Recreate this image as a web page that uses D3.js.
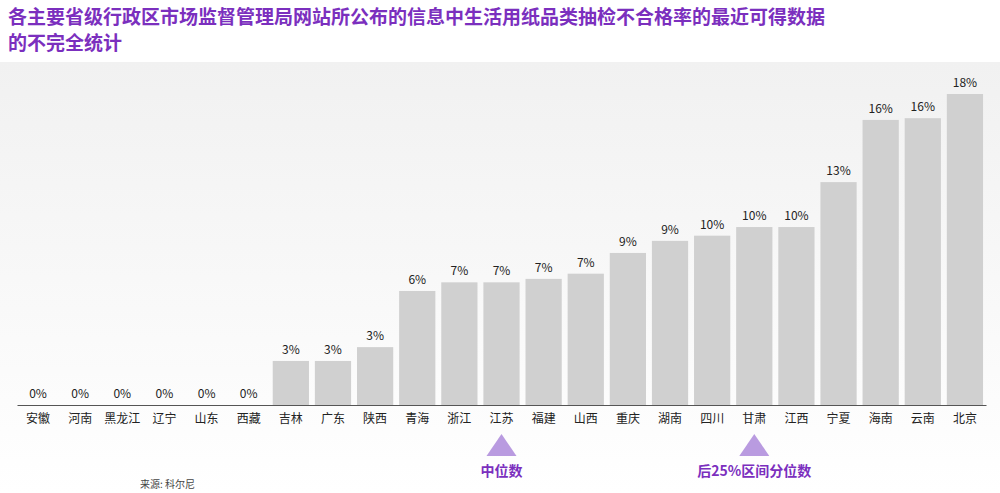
<!DOCTYPE html>
<html><head><meta charset="utf-8">
<script src="https://cdn.jsdelivr.net/npm/d3@7"></script>
<style>body{margin:0;background:#fff;font-family:"Noto Sans CJK SC","Noto Sans",sans-serif}</style>
</head><body><svg id="c" width="1000" height="493"></svg>
<script>
const categories=["安徽","河南","黑龙江","辽宁","山东","西藏","吉林","广东","陕西","青海","浙江","江苏","福建","山西","重庆","湖南","四川","甘肃","江西","宁夏","海南","云南","北京"];
const values=[0,0,0,0,0,0,2.55,2.55,3.35,6.6,7.1,7.1,7.3,7.6,8.8,9.5,9.8,10.3,10.3,12.9,16.5,16.6,18.0];
const valueLabels=["0%","0%","0%","0%","0%","0%","3%","3%","3%","6%","7%","7%","7%","7%","9%","9%","10%","10%","10%","13%","16%","16%","18%"];
const markers=[{cat:"江苏",label:"中位数"},{cat:"甘肃",label:"后25%区间分位数"}];
const svg=d3.select("#c");
const defs=svg.append("defs");
const g=defs.append("linearGradient").attr("id","bg").attr("x1",0).attr("x2",0).attr("y1",0).attr("y2",1);
g.append("stop").attr("offset","0").attr("stop-color","#f1f1f1");
g.append("stop").attr("offset","1").attr("stop-color","#ffffff");
svg.append("rect").attr("x",0).attr("y",62).attr("width",1000).attr("height",431).attr("fill","url(#bg)");
svg.append("text").attr("x",8).attr("y",24).attr("fill","#7b2fbe").attr("font-size",19).attr("font-weight","bold").text("各主要省级行政区市场监督管理局网站所公布的信息中生活用纸品类抽检不合格率的最近可得数据");
svg.append("text").attr("x",8).attr("y",50).attr("fill","#7b2fbe").attr("font-size",19).attr("font-weight","bold").text("的不完全统计");
const x=d3.scaleBand().domain(categories).range([17,986]).paddingInner(0.14).paddingOuter(0.07);
const y=d3.scaleLinear().domain([0,18]).range([405,94]);
svg.selectAll(".b").data(categories).enter().append("rect")
 .attr("x",d=>x(d)).attr("width",x.bandwidth())
 .attr("y",(d,i)=>y(values[i])).attr("height",(d,i)=>405-y(values[i])).attr("fill","#d0d0d0");
svg.selectAll(".v").data(categories).enter().append("text")
 .attr("x",d=>x(d)+x.bandwidth()/2).attr("y",(d,i)=>y(values[i])-7)
 .attr("text-anchor","middle").attr("font-size",12).attr("fill","#222").text((d,i)=>valueLabels[i]);
const ax=svg.append("g").attr("transform","translate(0,405)").call(d3.axisBottom(x).tickSize(0).tickPadding(9));
ax.select(".domain").attr("stroke","#555").attr("stroke-width",1.2);
ax.selectAll("text").attr("font-size",12).attr("fill","#222").attr("font-family","Noto Sans CJK SC");
markers.forEach(m=>{
 const cx=x(m.cat)+x.bandwidth()/2;
 svg.append("path").attr("d",`M${cx},434 L${cx+15},456 L${cx-15},456 Z`).attr("fill","#b99be0");
 svg.append("text").attr("x",cx).attr("y",476).attr("text-anchor","middle").attr("font-size",14).attr("font-weight","bold").attr("fill","#7b2fbe").text(m.label);
});
svg.append("text").attr("x",140).attr("y",488).attr("font-size",10).attr("fill","#444").text("来源: 科尔尼");
</script></body></html>
